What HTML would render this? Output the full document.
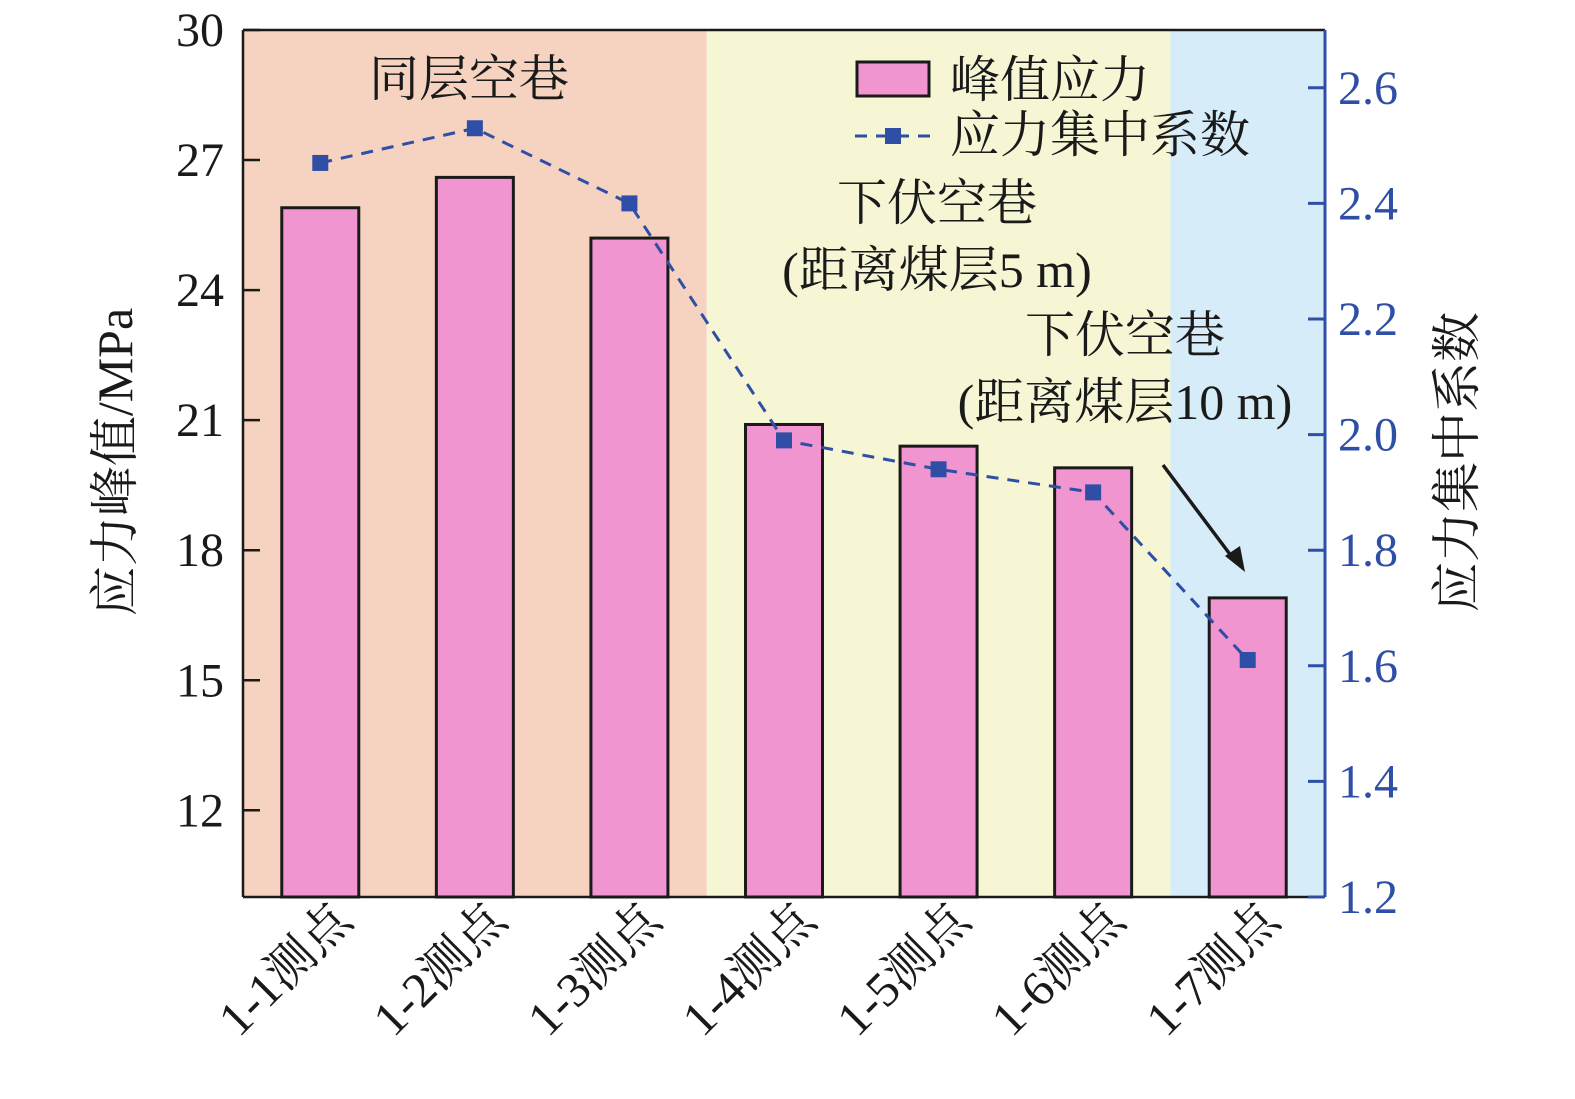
<!DOCTYPE html>
<html><head><meta charset="utf-8"><style>
body{margin:0;background:#fff}
svg text{font-family:"Liberation Serif","Noto Serif CJK SC","Noto Sans CJK SC",serif}
</style></head><body>
<svg id="c" width="1575" height="1094" viewBox="0 0 1575 1094"></svg>
<script>
const categories=["1-1测点","1-2测点","1-3测点","1-4测点","1-5测点","1-6测点","1-7测点"];
const peakStress=[25.9,26.6,25.2,20.9,20.4,19.9,16.9];
const concFactor=[2.47,2.53,2.40,1.99,1.94,1.90,1.61];
const leftTicks=[12,15,18,21,24,27,30];
const rightTicks=[1.2,1.4,1.6,1.8,2.0,2.2,2.4,2.6];
const L=243,R=1325,T=30,B=897;
const step=(R-L)/categories.length;
const yL=v=>B-(v-10)/(30-10)*(B-T);
const yR=v=>B-(v-1.2)/(2.7-1.2)*(B-T);
const xC=i=>L+step*(i+0.5);
const svg=document.getElementById('c');
const NS="http://www.w3.org/2000/svg";
function mk(t,a,p){const e=document.createElementNS(NS,t);for(const k in a)e.setAttribute(k,a[k]);(p||svg).appendChild(e);return e;}
const blue="#2f4ea6";
let r;
r=mk('rect',{x:L,y:T,width:step*3,height:B-T,fill:"#f6d3c0"});


r=mk('rect',{x:L+step*3,y:T,width:step*3,height:B-T,fill:"#f6f5d4"});


r=mk('rect',{x:L+step*6,y:T,width:step,height:B-T,fill:"#d6ecf8"});


peakStress.forEach((v,i)=>{
 const b=mk('rect',{x:xC(i)-38.5,y:yL(v),width:77,height:B-yL(v),fill:"#f095cf",stroke:"#1a1a1a","stroke-width":3});
 
 
});
const pts=concFactor.map((v,i)=>xC(i)+","+yR(v)).join(" ");
const pl=mk('polyline',{points:pts,fill:"none",stroke:blue,"stroke-width":3,"stroke-dasharray":"12,9"});


concFactor.forEach((v,i)=>{
 const m=mk('rect',{x:xC(i)-8,y:yR(v)-8,width:16,height:16,fill:blue});
 
 
});
mk('line',{x1:L,y1:T,x2:R,y2:T,stroke:"#1a1a1a","stroke-width":2.5});
mk('line',{x1:L,y1:B,x2:R,y2:B,stroke:"#1a1a1a","stroke-width":2.5});
const la=mk('line',{x1:L,y1:T,x2:L,y2:B,stroke:"#1a1a1a","stroke-width":2.5});


const ra=mk('line',{x1:R,y1:T,x2:R,y2:B,stroke:blue,"stroke-width":3});


leftTicks.forEach(v=>{
 mk('line',{x1:L,y1:yL(v),x2:L+17,y2:yL(v),stroke:"#1a1a1a","stroke-width":2.5});
 const t=mk('text',{x:224,y:yL(v)+16,"text-anchor":"end","font-size":48,fill:"#1a1a1a"});t.textContent=v;
 
 
});
rightTicks.forEach(v=>{
 mk('line',{x1:R-17,y1:yR(v),x2:R,y2:yR(v),stroke:blue,"stroke-width":3});
 const t=mk('text',{x:1338,y:yR(v)+16,"font-size":48,fill:blue});t.textContent=v.toFixed(1);
 
 
});
categories.forEach((c,i)=>{
 const x=xC(i)+34,y=B+26;
 const t=mk('text',{x:x,y:y,"text-anchor":"end","font-size":49,fill:"#1a1a1a",transform:`rotate(-45 ${x} ${y})`});t.textContent=c;
 
 
});
function txt(s,x,y,name,extra){const t=mk('text',Object.assign({x:x,y:y,"font-size":50,fill:"#1a1a1a"},extra||{}));t.textContent=s;
 
 return t;}
txt("应力峰值/MPa",132,462,'y-axis-title',{"text-anchor":"middle",transform:"rotate(-90 132 462)"});
txt("应力集中系数",1474,462,'y2-axis-title',{"text-anchor":"middle",transform:"rotate(-90 1474 462)"});
txt("同层空巷",469,96,'label-same-layer',{"text-anchor":"middle"});
txt("下伏空巷",937,220,'label-5m-title',{"text-anchor":"middle"});
txt("(距离煤层5 m)",937,287,'label-5m-dist',{"text-anchor":"middle"});
txt("下伏空巷",1125,352,'label-10m-title',{"text-anchor":"middle"});
txt("(距离煤层10 m)",1125,419,'label-10m-dist',{"text-anchor":"middle"});
const lg=mk('rect',{x:857,y:62,width:72,height:34,fill:"#f095cf",stroke:"#1a1a1a","stroke-width":3});


txt("峰值应力",950,97,'legend-bar-label');
mk('line',{x1:855,y1:136,x2:932,y2:136,stroke:blue,"stroke-width":3,"stroke-dasharray":"12,9"});
mk('rect',{x:885,y:128,width:16,height:16,fill:blue});
txt("应力集中系数",950,152,'legend-line-label');
const ar=mk('line',{x1:1163,y1:465,x2:1232,y2:557,stroke:"#1a1a1a","stroke-width":3.5});


mk('polygon',{points:"1245,572 1225,556 1240,546",fill:"#1a1a1a"});
</script>
</body></html>
